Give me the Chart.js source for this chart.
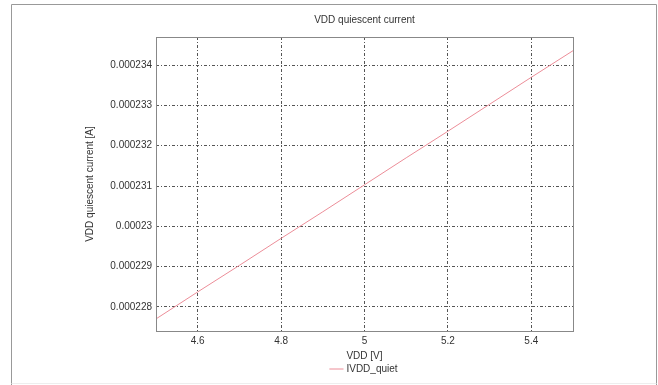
<!DOCTYPE html>
<html>
<head>
<meta charset="utf-8">
<script src="https://cdn.jsdelivr.net/npm/chart.js@4/dist/chart.umd.min.js"></script>
<style>
  html, body { margin: 0; padding: 0; background: #fff; }
  #wrap { width: 658px; height: 385px; }
</style>
</head>
<body>
<div id="wrap"><canvas id="chart" width="658" height="385"></canvas></div>
<script>
  // supply voltage sweep and measured quiescent current
  const vdd = [4.5, 4.6, 4.7, 4.8, 4.9, 5.0, 5.1, 5.2, 5.3, 5.4, 5.5];
  const iddQuiet = [0.0002277, 0.00022837, 0.00022903, 0.0002297, 0.00023036, 0.00023103,
                    0.0002317, 0.00023236, 0.00023303, 0.0002337, 0.00023436];

  const xTicks = [4.6, 4.8, 5.0, 5.2, 5.4];
  const xTickLabels = ['4.6', '4.8', '5', '5.2', '5.4'];
  const yTicks = [0.000228, 0.000229, 0.00023, 0.000231, 0.000232, 0.000233, 0.000234];
  const yTickLabels = ['0.000228', '0.000229', '0.00023', '0.000231', '0.000232', '0.000233', '0.000234'];

  const font = { family: "'Liberation Sans', Arial, sans-serif", size: 10 };
  const textColor = '#333';
  const gridStyle = { color: '#555', lineWidth: 1, drawTicks: false };

  // outer frame + box around the plot area
  const frames = {
    id: 'frames',
    afterDraw(chart) {
      const { ctx, chartArea: a } = chart;
      ctx.save();
      ctx.lineWidth = 1;
      ctx.strokeStyle = '#999';
      ctx.beginPath();
      ctx.moveTo(11.5, 385);
      ctx.lineTo(11.5, 4.5);
      ctx.lineTo(656.5, 4.5);
      ctx.lineTo(656.5, 385);
      ctx.stroke();
      ctx.strokeStyle = '#eee';
      ctx.beginPath();
      ctx.moveTo(11.5, 383.5);
      ctx.lineTo(656.5, 383.5);
      ctx.stroke();
      ctx.strokeStyle = '#888';
      ctx.strokeRect(Math.round(a.left) + 0.5, Math.round(a.top) + 0.5,
        Math.round(a.right - a.left), Math.round(a.bottom - a.top));
      ctx.restore();
    }
  };

  new Chart(document.getElementById('chart'), {
    type: 'line',
    data: {
      datasets: [{
        label: 'IVDD_quiet',
        data: vdd.map((v, i) => ({ x: v, y: iddQuiet[i] })),
        borderColor: '#ec8d98',
        backgroundColor: '#ec8d98',
        borderWidth: 1,
        pointRadius: 0,
        tension: 0
      }]
    },
    options: {
      responsive: false,
      animation: false,
      layout: { padding: { left: 80, right: 85, top: 14, bottom: 1 } },
      plugins: {
        title: {
          display: true,
          text: 'VDD quiescent current',
          color: textColor,
          font: { ...font, weight: 'normal' },
          fullSize: false,
          padding: { top: 0, bottom: 11 }
        },
        legend: {
          position: 'bottom',
          fullSize: false,
          labels: {
            color: textColor,
            font,
            usePointStyle: true,
            pointStyle: 'line',
            boxWidth: 24,
            padding: 3
          }
        },
        tooltip: { enabled: false }
      },
      scales: {
        x: {
          type: 'linear',
          min: 4.5,
          max: 5.5,
          afterBuildTicks: s => { s.ticks = xTicks.map(v => ({ value: v })); },
          ticks: {
            color: textColor,
            font,
            padding: 4,
            maxRotation: 0,
            callback: (v, i) => xTickLabels[i]
          },
          grid: gridStyle,
          border: { display: false, dash: [3, 2, 1, 2] },
          title: {
            display: true, text: 'VDD [V]', color: textColor,
            font: { ...font, lineHeight: 1.0 }, padding: { top: 0, bottom: 0 }
          }
        },
        y: {
          type: 'linear',
          min: 0.0002274,
          max: 0.0002347,
          afterBuildTicks: s => { s.ticks = yTicks.map(v => ({ value: v })); },
          afterFit: s => { s.width = 76; },
          ticks: {
            color: textColor,
            font,
            padding: 4,
            callback: (v, i) => yTickLabels[i]
          },
          grid: gridStyle,
          border: { display: false, dash: [3, 2, 1, 2] },
          title: { display: true, text: 'VDD quiescent current [A]', color: textColor, font, padding: { top: 4, bottom: 0 } }
        }
      }
    },
    plugins: [frames]
  });
</script>
</body>
</html>
